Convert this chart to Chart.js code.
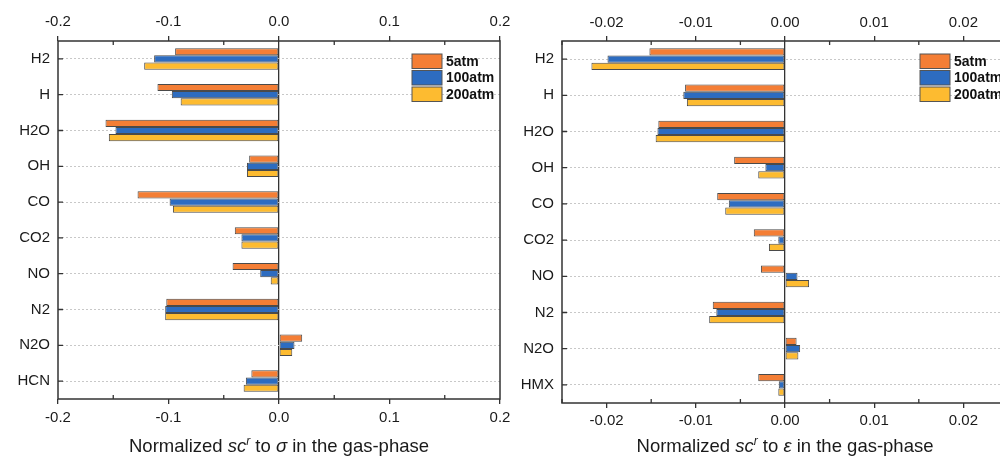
<!DOCTYPE html>
<html>
<head>
  <title>Normalized sensitivity bars</title>
  <style>
    body {
      margin: 0;
      padding: 0;
      background: #ffffff;
      width: 1000px;
      height: 462px;
      overflow: hidden;
      position: relative;
    }
    canvas {
      position: absolute;
      top: 0;
    }
    #chart_sigma { left: 0; }
    #chart_eps { left: 505px; }
  </style>
  <script src="https://cdn.jsdelivr.net/npm/chart.js"></script>
</head>
<body>
  <canvas id="chart_sigma" width="520" height="462"></canvas>
  <canvas id="chart_eps" width="520" height="462"></canvas>

  <script>
    // 데이터
    var seriesNames = ['5atm', '100atm', '200atm'];
    var seriesColors = ['#f47e35', '#2d6cc0', '#fdbb30'];

    var sigmaSpecies = ['H2', 'H', 'H2O', 'OH', 'CO', 'CO2', 'NO', 'N2', 'N2O', 'HCN'];
    var sigma5 = [-0.094, -0.110, -0.157, -0.027, -0.128, -0.040, -0.042, -0.102, 0.021, -0.025];
    var sigma100 = [-0.113, -0.097, -0.148, -0.029, -0.099, -0.034, -0.017, -0.103, 0.014, -0.030];
    var sigma200 = [-0.122, -0.089, -0.154, -0.029, -0.096, -0.034, -0.0075, -0.103, 0.012, -0.032];
    var sigmaTicks = [-0.2, -0.1, 0, 0.1, 0.2];
    var sigmaMinorTicks = [-0.15, -0.05, 0.05, 0.15];

    var epsSpecies = ['H2', 'H', 'H2O', 'OH', 'CO', 'CO2', 'NO', 'N2', 'N2O', 'HMX'];
    var eps5 = [-0.0152, -0.0112, -0.0142, -0.0057, -0.0076, -0.0035, -0.0027, -0.0081, 0.0013, -0.0030];
    var eps100 = [-0.0199, -0.0114, -0.0143, -0.0022, -0.0063, -0.00075, 0.0014, -0.0077, 0.0017, -0.0007];
    var eps200 = [-0.0217, -0.0110, -0.0145, -0.0030, -0.0067, -0.0018, 0.0027, -0.0085, 0.0015, -0.00075];
    var epsTicks = [-0.02, -0.01, 0, 0.01, 0.02];
    var epsMinorTicks = [-0.025, -0.015, -0.005, 0.005, 0.015, 0.025];

    Chart.defaults.font.family = 'Arial, "Liberation Sans", sans-serif';
    Chart.defaults.color = '#222';

    // 테두리, 안쪽 눈금, 범례, 축 제목
    var decoPlugin = {
      id: 'deco',
      afterDraw: function (chart, args, opts) {
        var c = chart.ctx;
        var a = chart.chartArea;
        var x = chart.scales.x;
        var y = chart.scales.y;
        c.save();
        c.strokeStyle = '#333';
        c.lineWidth = 1.5;
        c.strokeRect(a.left, a.top, a.right - a.left, a.bottom - a.top);

        // 보조 눈금 (안쪽)
        c.lineWidth = 1.3;
        c.beginPath();
        opts.minor.forEach(function (v) {
          var px = x.getPixelForValue(v);
          c.moveTo(px, a.bottom); c.lineTo(px, a.bottom - 4);
          c.moveTo(px, a.top); c.lineTo(px, a.top + 4);
        });
        y.ticks.forEach(function (t, i) {
          var py = y.getPixelForTick(i);
          c.moveTo(a.left, py); c.lineTo(a.left + 5, py);
        });
        c.stroke();

        // 범례
        var bx = a.right - 88;
        var by = a.top + 13;
        chart.data.datasets.forEach(function (ds, i) {
          var top = by + i * 16.5;
          c.fillStyle = ds.backgroundColor;
          c.fillRect(bx, top, 30, 14.5);
          c.strokeStyle = '#555';
          c.lineWidth = 1;
          c.strokeRect(bx, top, 30, 14.5);
          c.fillStyle = '#111';
          c.font = 'bold 14px Arial, "Liberation Sans", sans-serif';
          c.textBaseline = 'middle';
          c.textAlign = 'left';
          c.fillText(ds.label, bx + 34, top + 8);
        });

        // 축 제목
        var parts = [
          { t: 'Normalized ', f: '18.5px' },
          { t: 'sc', f: 'italic 18.5px' },
          { t: 'r', f: 'italic 12px', up: 7 },
          { t: ' to ', f: '18.5px' },
          { t: opts.symbol, f: 'italic 18.5px' },
          { t: ' in the gas-phase', f: '18.5px' }
        ];
        var fam = ' Arial, "Liberation Sans", sans-serif';
        var total = 0;
        parts.forEach(function (p) {
          c.font = p.f + fam;
          p.w = c.measureText(p.t).width;
          total += p.w;
        });
        var tx = (a.left + a.right) / 2 - total / 2;
        c.fillStyle = '#1a1a1a';
        c.textBaseline = 'alphabetic';
        parts.forEach(function (p) {
          c.font = p.f + fam;
          c.fillText(p.t, tx, opts.titleY - (p.up || 0));
          tx += p.w;
        });
        c.restore();
      }
    };

    function makeChart(id, species, values, range, major, minor, digits, symbol, box) {
      var tickFont = { size: 15 };
      var xCommon = function (pos, height, onArea) {
        return {
          type: 'linear',
          position: pos,
          min: range[0],
          max: range[1],
          afterBuildTicks: function (s) {
            s.ticks = major.map(function (v) { return { value: v }; });
          },
          afterFit: function (s) { s.height = height; },
          ticks: {
            callback: function (v) { return Number(v).toFixed(digits); },
            font: tickFont,
            color: '#1a1a1a',
            padding: box.tickPad,
            maxRotation: 0,
            autoSkip: false
          },
          grid: {
            drawOnChartArea: onArea,
            color: function (ctx) {
              return (onArea && ctx.tick && ctx.tick.value === 0) ? '#333' : 'rgba(0,0,0,0)';
            },
            lineWidth: 1.3,
            tickColor: '#333',
            tickWidth: 1.3,
            tickLength: 5
          },
          border: { display: false }
        };
      };

      return new Chart(document.getElementById(id), {
        type: 'bar',
        data: {
          labels: species,
          datasets: seriesNames.map(function (name, i) {
            return {
              label: name,
              data: values[i],
              backgroundColor: seriesColors[i],
              borderColor: '#4a4a4a',
              borderWidth: 1,
              borderSkipped: false,
              barPercentage: 1,
              categoryPercentage: 0.6,
              xAxisID: 'x'
            };
          })
        },
        options: {
          indexAxis: 'y',
          responsive: false,
          animation: false,
          devicePixelRatio: 1,
          layout: { padding: { left: 0, right: box.padRight, top: 0, bottom: 0 } },
          plugins: {
            legend: { display: false },
            tooltip: { enabled: false },
            deco: { minor: minor, symbol: symbol, titleY: 452 }
          },
          scales: {
            x: xCommon('bottom', box.bottomH, true),
            x2: xCommon('top', box.topH, false),
            y: {
              type: 'category',
              offset: true,
              afterFit: function (s) { s.width = box.yWidth; },
              ticks: { font: tickFont, color: '#1a1a1a', padding: 8 },
              grid: { color: '#c8c8c8', lineWidth: 1, drawTicks: false, offset: false },
              border: { display: false, dash: [2, 2] }
            }
          }
        },
        plugins: [decoPlugin]
      });
    }

    var sigmaChart = makeChart('chart_sigma', sigmaSpecies, [sigma5, sigma100, sigma200],
      [-0.2, 0.2], sigmaTicks, sigmaMinorTicks, 1, '\u03c3',
      { yWidth: 58, topH: 41, bottomH: 63, padRight: 20, tickPad: 5 });

    var epsChart = makeChart('chart_eps', epsSpecies, [eps5, eps100, eps200],
      [-0.025, 0.025], epsTicks, epsMinorTicks, 2, '\u03b5',
      { yWidth: 57, topH: 41, bottomH: 59, padRight: 17, tickPad: 4 });
  </script>
</body>
</html>
